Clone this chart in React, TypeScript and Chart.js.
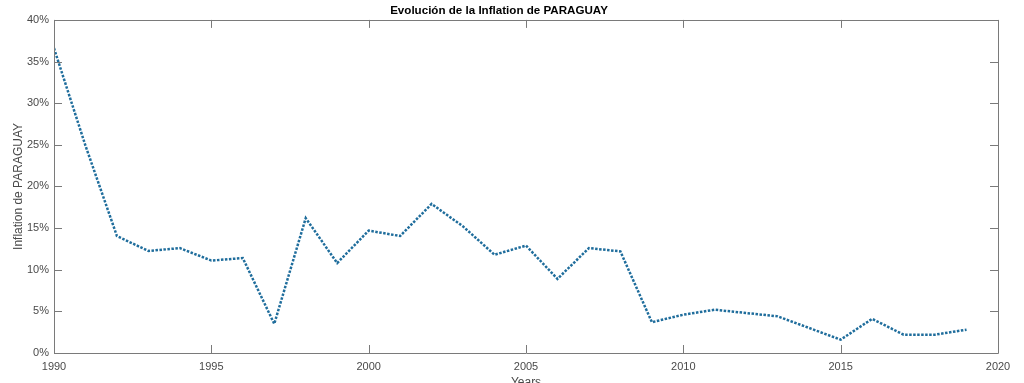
import React, { useEffect, useRef } from "react";
import { Chart, registerables } from "chart.js";

Chart.register(...registerables);

const years: number[] = [
  1990, 1991, 1992, 1993, 1994, 1995, 1996, 1997, 1998, 1999,
  2000, 2001, 2002, 2003, 2004, 2005, 2006, 2007, 2008, 2009,
  2010, 2011, 2012, 2013, 2014, 2015, 2016, 2017, 2018, 2019,
];
const inflation: number[] = [
  36.6, 24.9, 14.05, 12.25, 12.6, 11.1, 11.4, 3.5, 16.2, 10.8,
  14.7, 14.05, 17.9, 15.2, 11.8, 12.9, 8.9, 12.6, 12.2, 3.7,
  4.6, 5.2, 4.8, 4.4, 3.0, 1.6, 4.1, 2.2, 2.2, 2.8,
];
const titleText = "Evolución de la Inflation de PARAGUAY";
const xTitle = "Years";
const yTitle = "Inflation de PARAGUAY";

const FONT = "'Liberation Sans', Arial, Helvetica, sans-serif";
const AXIS_COLOR = "#7a7a7a";
const LABEL_COLOR = "#4a4a4a";

const boxPlugin = {
  id: "matlabBox",
  afterDraw(chart: any) {
    const { ctx, chartArea } = chart;
    const { left, right, top, bottom } = chartArea;
    const xs = chart.scales.x;
    const ys = chart.scales.y;
    const len = 8;
    ctx.save();
    ctx.strokeStyle = AXIS_COLOR;
    ctx.lineWidth = 1;
    ctx.beginPath();
    ctx.rect(Math.round(left) + 0.5, Math.round(top) + 0.5, Math.round(right - left), Math.round(bottom - top));
    xs.ticks.forEach((t: any) => {
      const px = Math.round(xs.getPixelForValue(t.value)) + 0.5;
      ctx.moveTo(px, bottom);
      ctx.lineTo(px, bottom - len);
      ctx.moveTo(px, top);
      ctx.lineTo(px, top + len);
    });
    ys.ticks.forEach((t: any) => {
      const py = Math.round(ys.getPixelForValue(t.value)) + 0.5;
      ctx.moveTo(left, py);
      ctx.lineTo(left + len, py);
      ctx.moveTo(right, py);
      ctx.lineTo(right - len, py);
    });
    ctx.stroke();
    ctx.restore();
  },
};

export default function App() {
  const ref = useRef<HTMLCanvasElement | null>(null);

  useEffect(() => {
    if (!ref.current) return;
    const chart = new Chart(ref.current, {
      type: "line",
      data: {
        datasets: [
          {
            data: years.map((y, i) => ({ x: y, y: inflation[i] })),
            borderColor: "#1f6d9c",
            borderWidth: 2.5,
            borderDash: [2.5, 1.5],
            pointRadius: 0,
            tension: 0,
            fill: false,
          },
        ],
      },
      plugins: [boxPlugin],
      options: {
        animation: false,
        responsive: true,
        maintainAspectRatio: false,
        layout: { padding: { left: 0, right: 26, top: 0, bottom: 0 } },
        plugins: {
          legend: { display: false },
          tooltip: { enabled: false },
          title: {
            display: true,
            text: titleText,
            color: "#000000",
            font: { family: FONT, size: 11.6, weight: "bold", lineHeight: 1.2 },
            padding: { top: 4, bottom: 2 },
          },
        },
        scales: {
          x: {
            type: "linear",
            min: 1990,
            max: 2020,
            afterFit: (s: any) => {
              s.height = 30;
            },
            ticks: {
              stepSize: 5,
              color: LABEL_COLOR,
              padding: 7,
              font: { family: FONT, size: 11 },
              callback: (v: any) => String(v),
              maxRotation: 0,
            },
            grid: { display: false, drawTicks: false },
            border: { display: false },
            title: {
              display: true,
              text: xTitle,
              color: LABEL_COLOR,
              font: { family: FONT, size: 12, lineHeight: 0.5 },
              padding: { top: 0, bottom: -3 },
            },
          },
          y: {
            min: 0,
            max: 40,
            afterFit: (s: any) => {
              s.width = 54;
            },
            ticks: {
              stepSize: 5,
              color: LABEL_COLOR,
              padding: 5,
              font: { family: FONT, size: 11 },
              callback: (v: any) => v + "%",
            },
            grid: { display: false, drawTicks: false },
            border: { display: false },
            title: {
              display: true,
              text: yTitle,
              color: LABEL_COLOR,
              font: { family: FONT, size: 12, lineHeight: 1.2 },
              padding: { top: 11, bottom: 0 },
            },
          },
        },
      },
    });
    return () => chart.destroy();
  }, []);

  return (
    <div style={{ position: "absolute", left: 0, top: 0, width: 1024, height: 383, background: "#fff" }}>
      <canvas ref={ref} />
    </div>
  );
}
